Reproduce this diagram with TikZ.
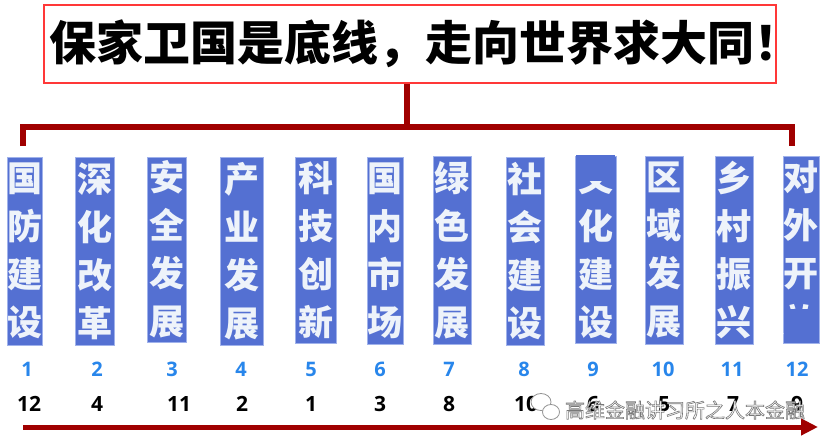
\documentclass[tikz,border=0pt]{standalone}
\usepackage{fontspec}
\setmainfont{Open Sans}
\newfontfamily\cjk{Noto Sans CJK SC}
\newfontfamily\wmfont{Noto Sans CJK SC}[FakeBold=3]
\usetikzlibrary{arrows.meta}
\definecolor{titlered}{RGB}{255,56,56}
\definecolor{barred}{RGB}{160,0,0}
\definecolor{boxblue}{RGB}{84,112,210}
\definecolor{boxedge}{RGB}{160,178,235}
\definecolor{numblue}{RGB}{40,134,235}
\definecolor{chartext}{RGB}{238,243,250}
\definecolor{wmgray}{RGB}{120,120,120}
\begin{document}
\begin{tikzpicture}[x=1pt,y=-1pt,
 bar/.style={draw=barred,line width=6pt},
 colbox/.style={fill=boxblue,draw=boxedge,line width=0.8pt,inner sep=0pt,text=chartext,
   font=\cjk\bfseries\fontsize{35}{48}\selectfont,align=center},
 bluenum/.style={text=numblue,font=\bfseries\fontsize{20}{20}\selectfont,inner sep=0pt},
 blacknum/.style={text=black,font=\bfseries\fontsize{21}{21}\selectfont,inner sep=0pt},
 logo/.style={draw=wmgray!80,fill=white,line width=0.8pt},
]
\useasboundingbox (0,0) rectangle (831,444);
\fill[white] (0,0) rectangle (831,444);

% title
\node[draw=titlered,line width=2pt,fill=white,minimum width=732pt,minimum height=78pt,
  inner sep=0pt,font=\cjk\bfseries\fontsize{47}{47}\selectfont] (title) at (410,44)
  {\makebox[0pt]{\hspace*{30pt}保家卫国是底线，走向世界求大同！}};

% connectors
\coordinate (jn) at (407,127);
\coordinate (hl) at (23,127);
\coordinate (hr) at (792,127);
\coordinate (dl) at (23,146);
\coordinate (dr) at (792,146);
\draw[bar] (title.south -| jn) -- (jn);
\draw[bar,line join=miter] (dl) -- (hl) -- (hr) -- (dr);

% column boxes
\foreach \i/\l/\r/\t/\b/\txt in {
  1/7/42/155/343/{国\\防\\建\\设},
  2/75/114/155/343/{深\\化\\改\\革},
  3/147/186/155/340/{安\\全\\发\\展},
  4/220/263/155/343/{产\\业\\发\\展},
  5/295/336/155/341/{科\\技\\创\\新},
  6/367/403/155/342/{国\\内\\市\\场},
  7/433/471/154/342/{绿\\色\\发\\展},
  8/506/544/155/343/{社\\会\\建\\设},
  9/575/616/154/341/{文\\化\\建\\设},
  10/645/683/154/342/{区\\域\\发\\展},
  11/715/753/154/342/{乡\\村\\振\\兴},
  12/783/819/154/341/{对\\外\\开\\放}}{
  \node[colbox,minimum width={(\r-\l)*1pt},minimum height={(\b-\t)*1pt}]
    (b\i) at ({(\l+\r)/2},{(\t+\b)/2+2}) {\txt};
}
% cropped glyph parts
\fill[boxblue] (576,155) rectangle (615,181);
\fill[boxblue] (784,309) rectangle (818,340);

% numbers
\foreach \i/\x in {1/27,2/97,3/172,4/241,5/311,6/380,7/449,8/524,9/593,10/663,11/732,12/797}{
  \node[bluenum] (n\i) at (\x,369) {\i};
}
\foreach \i/\x/\v in {1/29/12,2/97/4,3/179/11,4/242/2,5/311/1,6/380/3,7/449/8,8/526/10,9/593/6,10/664/5,11/733/7,12/797/9}{
  \node[blacknum] (r\i) at (\x,404) {\v};
}

% arrow
\coordinate (as) at (23,427);
\coordinate (ae) at (818,427);
\draw[draw=barred,line width=5pt,-{Triangle[length=17pt,width=16pt]}] (as) -- (ae);

% watermark
\draw[logo] (541,402) ellipse (10 and 8.5);
\draw[logo] (551,412) ellipse (8.5 and 7.5);
\node[text=white,font=\wmfont\fontsize{20}{20}\selectfont,inner sep=0pt] (wm) at (685,410)
  {\special{pdf:code 0.47 G}高维金融讲习所之人本金融};
\end{tikzpicture}
\end{document}
